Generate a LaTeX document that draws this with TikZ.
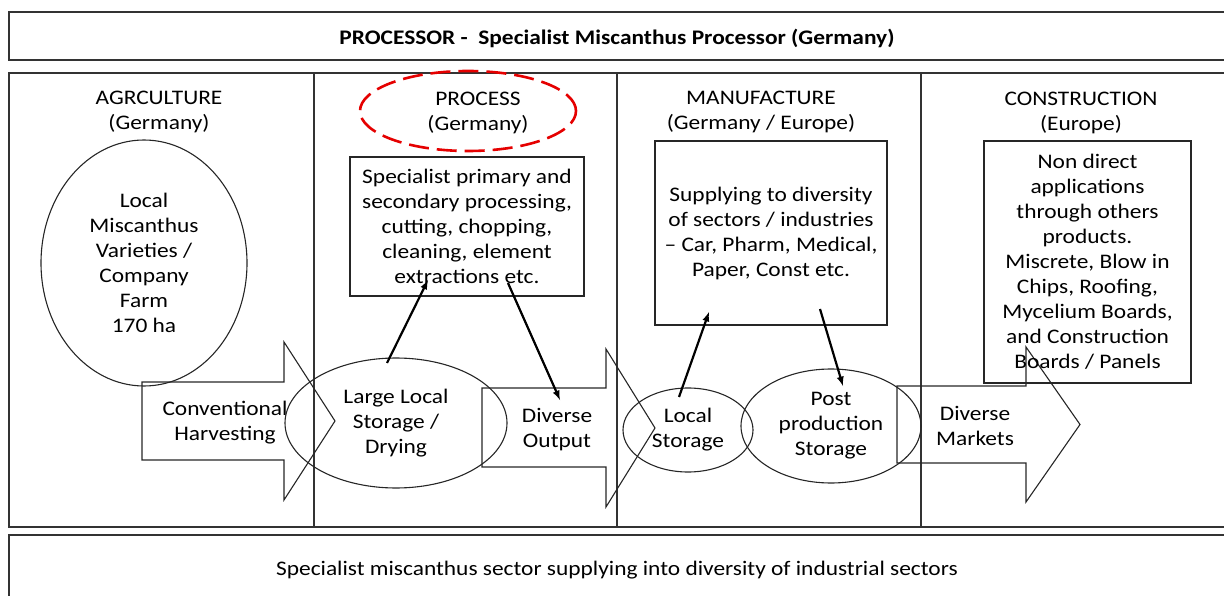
\documentclass[tikz,border=0pt]{standalone}
\usepackage{fontspec}
\setmainfont{Carlito}[FakeStretch=1.13]
\usepackage{tikz}
\usetikzlibrary{shapes.geometric,calc,positioning}
\tikzset{>=latex}
\tikzset{
	frame/.style={draw=black!80, line width=1.1pt},
	box/.style={draw=black!85, line width=1.1pt, align=center, inner sep=0pt},
	oval/.style={draw=black!85, line width=1.1pt, ellipse, align=center, inner sep=0pt},
	blk/.style={draw=black!85, line width=1.1pt, line join=miter},
	txt/.style={align=center, inner sep=0pt},
	ring/.style={draw=red!90!black, ellipse, line width=2.6pt, dash pattern=on 20pt off 8pt},
	link/.style={->, line width=2.2pt, black},
}

\begin{document}
\begin{tikzpicture}[x=1pt,y=-1pt, every node/.style={font=\fontsize{20.7}{25}\selectfont}]
		\useasboundingbox (0,0) rectangle (1224,596);
		% frames
		\draw[frame] (1230,12) -- (9,12) -- (9,60) -- (1230,60);
		\draw[frame] (1230,73) -- (9,73) -- (9,527) -- (1230,527);
		\draw[frame] (314,73) -- (314,527);
		\draw[frame] (617,73) -- (617,527);
		\draw[frame] (921,73) -- (921,527);
		\draw[frame] (1230,535) -- (9,535) -- (9,600);
		\node[txt, font=\fontsize{20.7}{25}\selectfont\bfseries] (title) at (617,38) {PROCESSOR -~ Specialist Miscanthus Processor (Germany)};
		\node[txt] (footer) at (617,570) {Specialist miscanthus sector supplying into diversity of industrial sectors};

		% column heads
		\node[txt] (agrhead) at (159,112) {AGRCULTURE\\(Germany)};
		\node[txt] (prchead) at (478,113) {PROCESS\\(Germany)};
		\node[ring, minimum width=216, minimum height=80] (prcring) at (468,111) {};
		\node[txt] (manhead) at (761,112) {MANUFACTURE\\(Germany / Europe)};
		\node[txt] (conhead) at (1081,113) {CONSTRUCTION\\(Europe)};

		% block arrows
		\draw[blk] (142,382) -- (284,382) -- (284,342) -- (335,421) -- (284,500) -- (284,460) -- (142,460) -- cycle;
		\draw[blk] (482,388) -- (606,388) -- (606,349) -- (655,428) -- (606,507) -- (606,467) -- (482,467) -- cycle;
		\draw[blk] (897,386) -- (1026,386) -- (1026,347) -- (1080,424.5) -- (1026,502) -- (1026,463) -- (897,463) -- cycle;
		\node[txt] (harvest) at (225,423) {Conventional\\Harvesting};
		\node[txt] (output) at (557,430) {Diverse\\Output};
		\node[txt] (markets) at (975,426) {Diverse\\Markets};

		% stages
		\node[oval, minimum width=206, minimum height=246] (farm) at (144,263) {Local\\Miscanthus\\Varieties /\\Company\\Farm\\170 ha};
		\node[oval, minimum width=222, minimum height=130] (store) at (396,423) {Large Local\\Storage /\\Drying};
		\node[box, minimum width=234, minimum height=139] (proc) at (467,226.5) {Specialist primary and\\secondary processing,\\cutting, chopping,\\cleaning, element\\extractions etc.};
		\node[box, minimum width=232, minimum height=184] (manu) at (771,233) {Supplying to diversity\\of sectors / industries\\-- Car, Pharm, Medical,\\Paper, Const etc.};
		\node[oval, minimum width=130, minimum height=84] (locstore) at (688,430) {Local\\Storage};
		\node[oval, minimum width=180, minimum height=114] (poststore) at (831,426) {Post\\production\\Storage};
		\node[box, minimum width=207, minimum height=242] (cons) at (1087.5,262) {Non direct\\applications\\through others\\products.\\Miscrete, Blow in\\Chips, Roofing,\\Mycelium Boards,\\and Construction\\Boards / Panels};

		% links
		\coordinate (storetop) at (387,363);
		\coordinate (procin) at (428,280);
		\coordinate (procout) at (508,283);
		\coordinate (outtop) at (560,400);
		\coordinate (loctop) at (679,397);
		\coordinate (manuin) at (709,312);
		\coordinate (manuout) at (820,309);
		\coordinate (posttop) at (843,386);
		\draw[link] (storetop) -- (procin);
		\draw[link] (procout) -- (outtop);
		\draw[link] (loctop) -- (manuin);
		\draw[link] (manuout) -- (posttop);
	\end{tikzpicture}
\end{document}
